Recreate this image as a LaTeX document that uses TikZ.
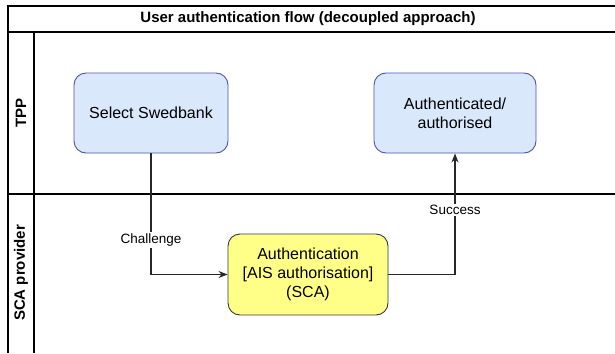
\documentclass[tikz,border=0pt]{standalone}
\usepackage{fontspec}
\setmainfont{Liberation Sans}
\usetikzlibrary{arrows.meta}
\begin{document}
\begin{tikzpicture}[x=1pt,y=-1pt,
  lane/.style={draw=black,line width=1.2pt},
  bluebox/.style={draw=blue!35!gray,fill={rgb,255:red,218;green,232;blue,252},line width=0.9pt,rounded corners=12pt,minimum width=154pt,minimum height=80pt,align=center,font=\fontsize{16}{19}\selectfont},
  yellowbox/.style={draw={rgb,255:red,54;green,57;blue,61},fill={rgb,255:red,255;green,255;blue,136},line width=0.9pt,rounded corners=12pt,minimum width=160pt,minimum height=81pt,align=center,font=\fontsize{16}{19}\selectfont},
  flow/.style={draw={rgb,255:red,40;green,40;blue,40},line width=1.1pt,-{Stealth[length=9pt,width=7pt]}},
  elabel/.style={fill=white,inner sep=1.5pt,font=\fontsize{13.5}{16}\selectfont},
  lanetitle/.style={font=\bfseries\fontsize{15}{18}\selectfont,rotate=90}
]
\useasboundingbox (0,0) rectangle (615,353);
% swimlane frame
\draw[lane] (615,6) -- (8,6) -- (8,353);
\draw[lane] (8,32) -- (615,32);
\draw[lane] (34,32) -- (34,353);
\draw[lane] (8,194) -- (615,194);
\node[font=\bfseries\fontsize{15}{18}\selectfont] (title) at (308,19) {User authentication flow (decoupled approach)};
\node[lanetitle] (tpp) at (21,113) {TPP};
\node[lanetitle] (sca) at (21,273) {SCA provider};
% boxes
\node[bluebox] (select) at (151,113) {Select Swedbank};
\node[bluebox,minimum width=162pt] (authd) at (455,113) {Authenticated/\\authorised};
\node[yellowbox] (auth) at (308,274.5) {Authentication\\{[AIS authorisation]}\\(SCA)};
% connectors
\coordinate (c1) at (select.south |- auth.west);
\coordinate (c2) at (authd.south |- auth.east);
\draw[flow] (select.south) -- (c1) -- (auth.west);
\draw[flow] (auth.east) -- (c2) -- (authd.south);
\node[elabel] (chl) at (151,240) {Challenge};
\node[elabel] (suc) at (455,210) {Success};
\end{tikzpicture}
\end{document}
